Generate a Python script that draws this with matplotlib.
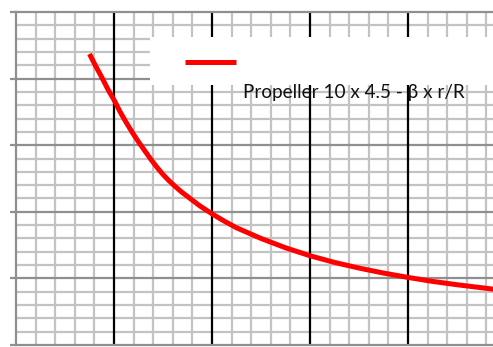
import matplotlib
matplotlib.use("Agg")
import matplotlib.pyplot as plt
from matplotlib.patches import Rectangle
from matplotlib.lines import Line2D
from matplotlib.ticker import MultipleLocator

# Data: blade angle beta (deg) vs r/R for propeller 10 x 4.5
r_over_R = [0.15, 0.1625, 0.175, 0.1875, 0.2, 0.2125, 0.225, 0.2375, 0.25, 0.2625,
            0.275, 0.2875, 0.3, 0.3125, 0.325, 0.3375, 0.35, 0.375, 0.4, 0.425, 0.45,
            0.475, 0.5, 0.55, 0.6, 0.65, 0.7, 0.75, 0.8, 0.85, 0.9, 0.95, 1.0]
beta_deg = [43.7, 41.9, 40.2, 38.4, 36.8, 35.0, 33.4, 31.9, 30.5, 29.2,
            27.9, 26.7, 25.6, 24.65, 23.8, 23.0, 22.3, 20.9, 19.7, 18.6, 17.6,
            16.8, 16.0, 14.6, 13.4, 12.4, 11.55, 10.8, 10.15, 9.55, 9.05, 8.6, 8.15]
major_x = [0.2, 0.4, 0.6, 0.8]
major_y = [10, 20, 30, 40]
legend_label = "Propeller 10 x 4.5 - \u03b2 x r/R"

W, H = 493, 347
DPI = 100
fig = plt.figure(figsize=(W / DPI, H / DPI), dpi=DPI)
fig.patch.set_facecolor("white")

# axes spans px x 16..506 (cropped on the right), y 12..345
ax = fig.add_axes([16 / W, (H - 345) / H, 490 / W, 333 / H])
ax.set_xlim(0, 1.0)
ax.set_ylim(0, 50)
ax.xaxis.set_major_locator(MultipleLocator(0.2))
ax.xaxis.set_minor_locator(MultipleLocator(0.04))
ax.yaxis.set_major_locator(MultipleLocator(10))
ax.yaxis.set_minor_locator(MultipleLocator(2))

minor_c = "#c3c3c3"
major_c = "#8f8f8f"
ax.grid(which="minor", color=minor_c, linewidth=1.6)
ax.set_axisbelow(True)
for yv in major_y:
    ax.axhline(yv, color=major_c, linewidth=1.6, zorder=1.0)
for xv in major_x:
    ax.axvline(xv, color="black", linewidth=1.6, zorder=1.2)

for s in ["left", "top", "bottom"]:
    ax.spines[s].set_color(major_c)
    ax.spines[s].set_linewidth(1.6)
ax.spines["right"].set_visible(False)

ax.tick_params(axis="y", which="major", direction="out", length=4.5, width=1.6,
               color=major_c, labelleft=False)
ax.tick_params(axis="y", which="minor", length=0)
ax.tick_params(axis="x", which="both", length=0, labelbottom=False)

ax.plot(r_over_R, beta_deg, color="#ff0000", linewidth=3.6, solid_capstyle="butt",
        solid_joinstyle="round", zorder=3)

# legend box (white) and entry, Excel-like
fig.patches.append(Rectangle((150 / W, (H - 85) / H), (W - 150) / W, 48 / H,
                             transform=fig.transFigure, facecolor="white",
                             edgecolor="none", zorder=5))
fig.lines.append(Line2D([185 / W, 236 / W], [(H - 61.5) / H] * 2,
                        transform=fig.transFigure, color="#ff0000",
                        linewidth=3.6, solid_capstyle="butt", zorder=6))
fig.text(243 / W, (H - 98) / H, legend_label, fontsize=13.6, family="Lato",
         color="#111111", ha="left", va="baseline", zorder=7)

fig.savefig("out.png", dpi=DPI)
